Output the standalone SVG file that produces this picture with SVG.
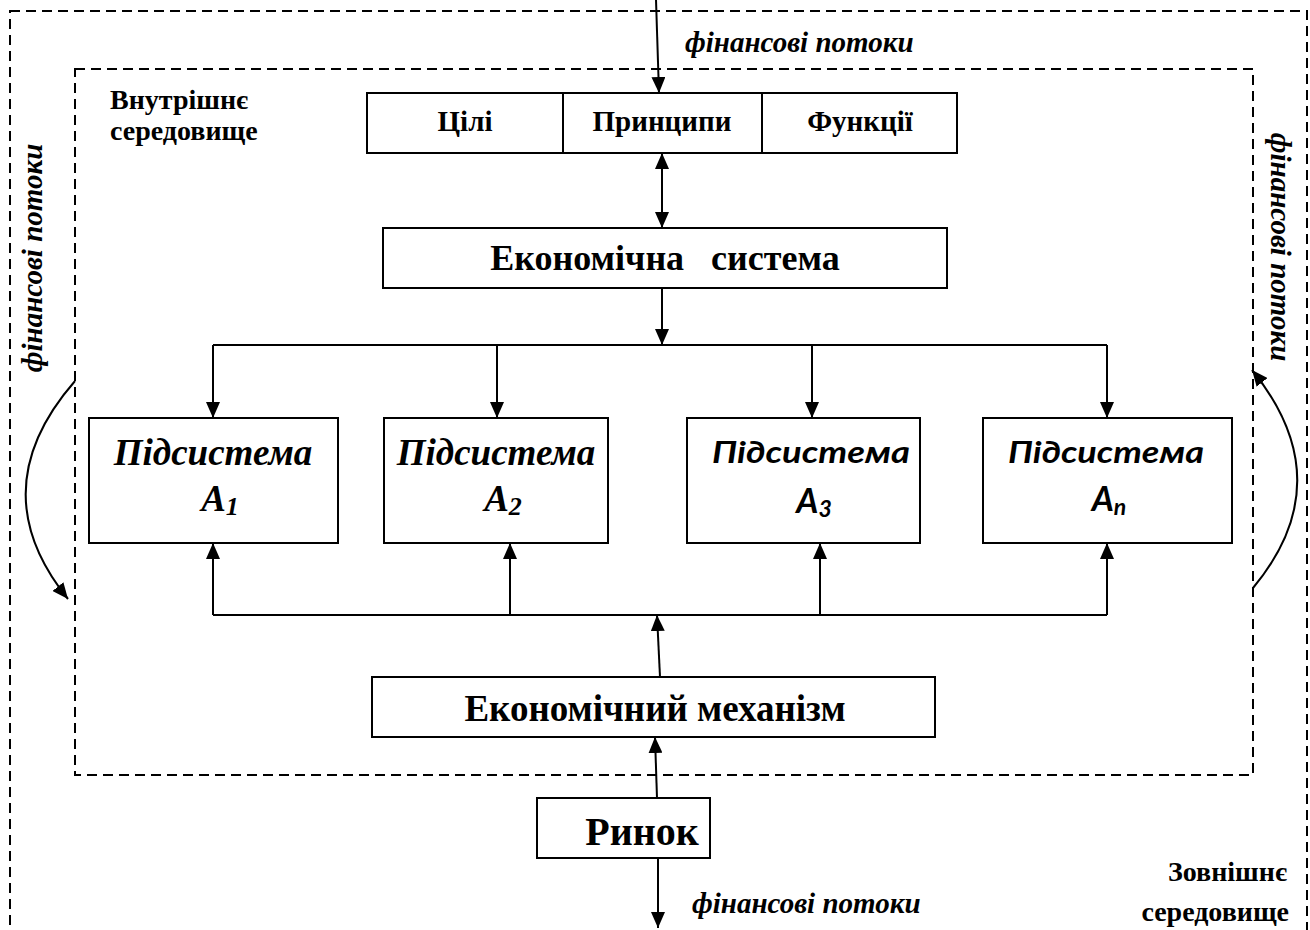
<svg xmlns="http://www.w3.org/2000/svg" width="1310" height="930" viewBox="0 0 1310 930">
  <style>
    .bg { fill: #ffffff; }
    .box { fill: #ffffff; stroke: #000; stroke-width: 2; }
    .env { fill: none; stroke: #000; stroke-width: 2; stroke-dasharray: 10 6; }
    .wire { fill: none; stroke: #000; stroke-width: 2; }
    .arr { fill: none; stroke: #000; stroke-width: 2; marker-end: url(#tip); }
    .serif { font-family: "Liberation Serif", "Times New Roman", serif; font-weight: bold; fill: #000; }
    .ital { font-family: "Liberation Serif", "Times New Roman", serif; font-weight: bold; font-style: italic; fill: #000; }
    .sans { font-family: Lato, "Open Sans", "Noto Sans", sans-serif; font-weight: bold; font-style: italic; fill: #000; }
  </style>
  <defs>
    <marker id="tip" markerUnits="userSpaceOnUse" markerWidth="16" markerHeight="14" refX="16" refY="7" orient="auto-start-reverse">
      <path d="M0,0 L16,7 L0,14 z" fill="#000"/>
    </marker>
  </defs>

  <rect class="bg" x="0" y="0" width="1310" height="930"/>

  <!-- environments -->
  <g id="outer-env">
    <rect class="env" x="10" y="11" width="1297" height="960"/>
    <text class="serif" x="1287" y="881" font-size="28" text-anchor="end">Зовнішнє</text>
    <text class="serif" x="1289" y="921" font-size="28" text-anchor="end">середовище</text>
  </g>
  <g id="inner-env">
    <rect class="env" x="75" y="69" width="1178" height="706"/>
    <text class="serif" x="110" y="109" font-size="28">Внутрішнє</text>
    <text class="serif" x="110" y="140" font-size="28">середовище</text>
  </g>

  <!-- goals / principles / functions -->
  <g id="goals">
    <rect class="box" x="367" y="93" width="590" height="60"/>
    <line class="wire" x1="563" y1="93" x2="563" y2="153"/>
    <line class="wire" x1="762" y1="93" x2="762" y2="153"/>
    <text class="serif" x="465" y="131" font-size="29" text-anchor="middle">Цілі</text>
    <text class="serif" x="662" y="131" font-size="29" text-anchor="middle">Принципи</text>
    <text class="serif" x="860" y="131" font-size="29" text-anchor="middle">Функції</text>
  </g>

  <g id="econ-system">
    <rect class="box" x="383" y="228" width="564" height="60"/>
    <text class="serif" x="665" y="270" font-size="36" text-anchor="middle" style="white-space:pre">Економічна   система</text>
  </g>

  <g id="sub1">
    <rect class="box" x="89" y="418" width="249" height="125"/>
    <text class="ital" x="213" y="465" font-size="37" text-anchor="middle">Підсистема</text>
    <text class="ital" x="220" y="511" font-size="37" text-anchor="middle">A<tspan font-size="26" dy="4">1</tspan></text>
  </g>
  <g id="sub2">
    <rect class="box" x="384" y="418" width="224" height="125"/>
    <text class="ital" x="503" y="511" font-size="37" text-anchor="middle">A<tspan font-size="26" dy="4">2</tspan></text>
    <text class="ital" x="496" y="465" font-size="37" text-anchor="middle">Підсистема</text>
  </g>
  <g id="sub3">
    <rect class="box" x="687" y="418" width="233" height="125"/>
    <text class="sans" x="811" y="463" font-size="30" text-anchor="middle" textLength="198" lengthAdjust="spacingAndGlyphs">Підсистема</text>
    <text class="sans" x="814" y="513" font-size="34" text-anchor="middle">A<tspan font-size="23" dy="4">3</tspan></text>
  </g>
  <g id="subn">
    <rect class="box" x="983" y="418" width="249" height="125"/>
    <text class="sans" x="1106" y="463" font-size="30" text-anchor="middle" textLength="196" lengthAdjust="spacingAndGlyphs">Підсистема</text>
    <text class="sans" x="1109" y="511" font-size="34" text-anchor="middle">A<tspan font-size="23" dy="4">n</tspan></text>
  </g>

  <g id="econ-mechanism">
    <rect class="box" x="372" y="677" width="563" height="60"/>
    <text class="serif" x="655" y="721" font-size="37" text-anchor="middle">Економічний механізм</text>
  </g>

  <g id="market">
    <rect class="box" x="537" y="798" width="173" height="60"/>
    <text class="serif" x="642" y="845" font-size="40" text-anchor="middle">Ринок</text>
  </g>

  <!-- flow labels -->
  <g id="flow-labels">
    <text class="ital" x="685" y="52" font-size="29">фінансові потоки</text>
    <text class="ital" x="692" y="913" font-size="29">фінансові потоки</text>
    <text class="ital" font-size="29" text-anchor="middle" transform="translate(42 258) rotate(-90)">фінансові потоки</text>
    <text class="ital" font-size="29" text-anchor="middle" transform="translate(1271 247) rotate(90)">фінансові потоки</text>
  </g>

  <!-- connectors -->
  <g id="connectors">
    <line class="arr" x1="656" y1="0" x2="659" y2="93"/>
    <line class="arr" x1="662" y1="153" x2="662" y2="228" marker-start="url(#tip)"/>
    <line class="arr" x1="662" y1="288" x2="662" y2="345"/>
    <line class="wire" x1="213" y1="345" x2="1107" y2="345"/>
    <line class="arr" x1="213" y1="345" x2="213" y2="418"/>
    <line class="arr" x1="497" y1="345" x2="497" y2="418"/>
    <line class="arr" x1="812" y1="345" x2="812" y2="418"/>
    <line class="arr" x1="1107" y1="345" x2="1107" y2="418"/>
    <line class="wire" x1="213" y1="615" x2="1107" y2="615"/>
    <line class="arr" x1="213" y1="615" x2="213" y2="543"/>
    <line class="arr" x1="510" y1="615" x2="510" y2="543"/>
    <line class="arr" x1="820" y1="615" x2="820" y2="543"/>
    <line class="arr" x1="1107" y1="615" x2="1107" y2="543"/>
    <line class="arr" x1="660" y1="677" x2="657" y2="615"/>
    <line class="arr" x1="657" y1="798" x2="655" y2="737"/>
    <line class="arr" x1="658" y1="858" x2="658" y2="928"/>
    <path class="arr" d="M75,381 Q-20,490 68,599"/>
    <path class="arr" d="M1253,588 Q1342,481 1252,370"/>
  </g>
</svg>
